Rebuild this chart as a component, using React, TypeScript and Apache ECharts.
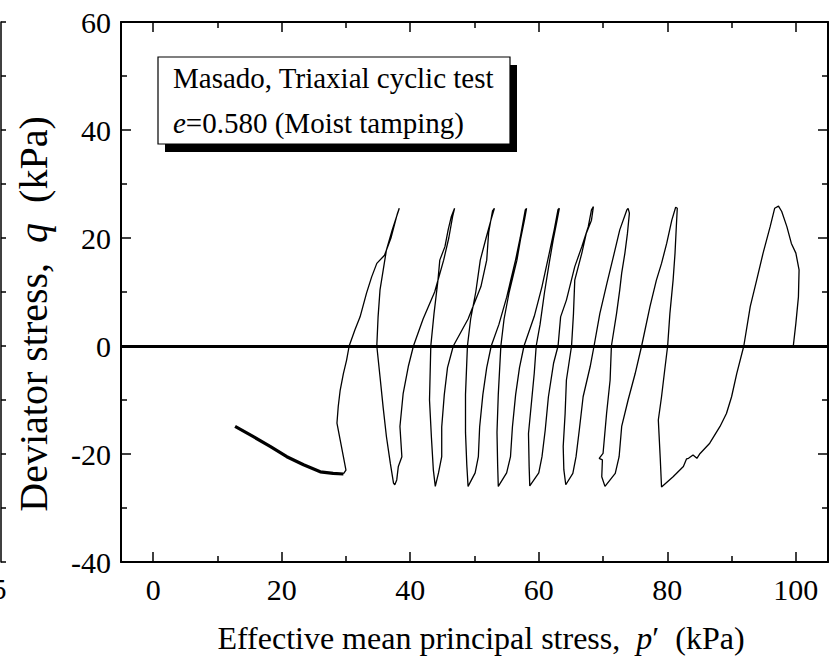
import React, { useEffect, useRef } from "react";
import * as echarts from "echarts";

// ---- Data: effective stress path (p', q) in kPa ----
const cycle1: number[][] = [
  [99.6, 0], [100.0, 4.2], [100.4, 9.1], [100.5, 14.1], [100.0, 17.2], [99.3, 19.0], [98.6, 22.1],
  [97.8, 24.9], [97.3, 25.9], [96.7, 25.5], [96.0, 22.1], [94.9, 17.2], [93.9, 12.2], [92.9, 7.3],
  [91.9, 0], [90.8, -5.1], [90.0, -9.4], [89.2, -12.5], [88.2, -14.9], [86.6, -18.0], [85.1, -19.9],
  [84.6, -20.8], [84.0, -20.2], [83.3, -20.8], [83.0, -20.9], [82.5, -22.3], [80.9, -24.2], [79.1, -26.1],
];
const cycle2: number[][] = [
  [78.9, -20.8], [78.6, -13.7], [79.1, -9.4], [79.6, -4.4], [80.05, 0], [80.4, 6.0], [80.9, 12.2],
  [81.2, 17.2], [81.4, 22.1], [81.55, 25.5], [81.3, 25.7], [80.7, 23.3], [79.9, 19.0], [79.1, 15.3],
  [78.3, 12.2], [77.3, 7.3], [76.0, 0], [75.0, -5.1], [73.9, -10.0], [72.9, -14.9], [72.5, -20.5],
  [71.9, -23.6], [70.3, -26.0],
];
const cycle3: number[][] = [
  [69.8, -24.2], [69.9, -21.1], [69.4, -20.8], [70.0, -19.9], [70.55, -12.5], [71.1, -6.3], [71.3, 0],
  [72.1, 6.0], [72.6, 10.4], [72.9, 13.5], [73.4, 17.2], [73.8, 20.9], [74.1, 24.6], [73.9, 25.5],
  [73.7, 25.2], [72.6, 21.5], [71.6, 16.5], [70.6, 11.6], [69.5, 6.0], [68.6, 0], [68.0, -3.8],
  [66.9, -9.4], [66.3, -15.6], [65.8, -20.5], [65.3, -23.6], [64.2, -25.7],
];
const cycle4: number[][] = [
  [63.9, -22.9], [63.8, -18.6], [64.1, -12.5], [64.3, -6.3], [65.1, 0], [65.4, 6.0], [65.6, 12.2],
  [66.7, 17.2], [67.4, 20.9], [68.2, 23.3], [68.5, 25.8], [68.2, 25.2], [67.7, 22.1], [66.7, 18.4],
  [65.6, 14.7], [64.3, 8.5], [63.4, 5.4], [63.0, 0], [62.3, -3.2], [61.5, -9.4], [61.0, -15.6],
  [60.5, -20.5], [60.0, -23.5], [58.6, -25.9],
];
const cycle5: number[][] = [
  [58.5, -22.3], [58.4, -16.2], [58.9, -10.0], [59.3, -5.0], [59.6, 0], [60.2, 4.0], [60.9, 10.0],
  [61.7, 15.9], [62.3, 20.0], [62.8, 23.0], [63.2, 25.5], [63.0, 25.3], [62.4, 21.5], [61.6, 17.0],
  [60.5, 11.0], [59.3, 5.5], [57.7, 0], [57.0, -4.0], [56.4, -9.0], [55.9, -15.0], [55.6, -20.5],
  [55.0, -23.5], [53.7, -26.0],
];
const cycle6: number[][] = [
  [53.6, -22.0], [53.5, -16.0], [53.7, -9.0], [54.1, 0], [54.6, 5.0], [55.4, 10.0], [56.6, 15.9],
  [57.2, 20.0], [57.8, 23.5], [58.1, 25.5], [57.9, 25.2], [57.1, 20.0], [56.4, 16.0], [55.0, 9.0],
  [53.8, 4.0], [52.6, 0], [51.9, -4.0], [51.3, -9.0], [50.8, -15.0], [50.6, -20.5], [50.1, -23.5],
  [49.0, -26.0],
];
const cycle7: number[][] = [
  [48.8, -22.0], [48.6, -16.0], [48.6, -9.0], [48.9, 0], [49.4, 5.0], [50.2, 10.0], [50.9, 15.9],
  [51.8, 20.0], [52.6, 23.5], [53.1, 25.5], [52.8, 25.0], [52.2, 21.0], [51.9, 15.9], [51.0, 11.0],
  [49.0, 5.0], [46.7, 0], [45.8, -4.0], [45.3, -9.0], [44.9, -15.0], [44.9, -20.5], [44.4, -23.5],
  [43.9, -26.0],
];
const cycle8: number[][] = [
  [43.6, -23.0], [43.3, -17.0], [43.0, -10.0], [43.2, 0], [43.7, 6.0], [44.3, 12.0], [44.6, 15.9],
  [45.4, 18.4], [45.9, 21.5], [46.4, 24.0], [46.9, 25.5], [46.6, 24.0], [46.0, 20.0], [45.2, 15.9],
  [43.8, 10.0], [42.0, 5.0], [40.5, 0], [39.7, -3.8], [38.9, -8.8], [38.4, -14.9], [38.7, -20.5],
  [38.15, -22.3], [37.9, -24.8], [37.6, -25.7],
];
const cycle9: number[][] = [
  [37.4, -25.4], [36.9, -21.7], [36.3, -16.8], [35.8, -11.5], [35.3, -5.7], [34.8, 0], [35.0, 5.4],
  [35.3, 10.4], [35.8, 14.1], [36.3, 17.8], [37.2, 21.5], [38.3, 25.5], [38.0, 24.5], [37.0, 20.0],
  [36.0, 16.8], [34.8, 15.3], [34.0, 12.8], [33.2, 9.8], [32.2, 5.4], [31.4, 3.0], [30.5, 0],
  [30.1, -2.6], [29.6, -5.1], [29.1, -8.2], [28.8, -11.2], [28.6, -14.3], [29.1, -17.4], [29.6, -20.5],
  [30.0, -23.0], [29.6, -23.7],
];
const tail: number[][] = [
  [29.6, -23.7], [28.0, -23.6], [26.0, -23.3], [23.4, -22.0], [20.8, -20.5], [18.2, -18.6],
  [15.6, -16.8], [12.75, -14.9],
];

const xMajorTicks = [0, 20, 40, 60, 80, 100];
const xMinorTicks = [10, 30, 50, 70, 90];

const FONT = "'Liberation Serif', 'Times New Roman', Times, serif";

export default function App() {
  const ref = useRef<HTMLDivElement>(null);

  useEffect(() => {
    if (!ref.current) return;
    const chart = echarts.init(ref.current, undefined, { renderer: "svg" });
    const path = [
      ...cycle1, ...cycle2, ...cycle3, ...cycle4, ...cycle5,
      ...cycle6, ...cycle7, ...cycle8, ...cycle9,
    ];

    const labelStyle = { fontSize: 30, fontFamily: FONT, color: "#000" };

    const xBase = (pos: string, ticks: number[], len: number, labels: boolean, line: boolean) => ({
      type: "value",
      min: -5,
      max: 105,
      position: pos,
      axisLine: { show: line, onZero: false, lineStyle: { color: "#000", width: 2 } },
      axisTick: {
        show: true,
        inside: true,
        length: len,
        customValues: ticks,
        lineStyle: { color: "#000", width: 1.5 },
      },
      axisLabel: labels
        ? { show: true, customValues: ticks, margin: 12, ...labelStyle }
        : { show: false },
      splitLine: { show: false },
    });

    const yBase = (pos: string, labels: boolean, offset: number, len: number, minorLen: number, lw: number) => ({
      type: "value",
      min: -40,
      max: 60,
      interval: 20,
      position: pos,
      offset,
      axisLine: { show: true, onZero: false, lineStyle: { color: "#000", width: lw } },
      axisTick: { show: true, inside: true, length: len, lineStyle: { color: "#000", width: 1.5 } },
      minorTick: { show: true, splitNumber: 2, length: minorLen, lineStyle: { color: "#000", width: 1.5 } },
      axisLabel: labels ? { show: true, margin: 10, ...labelStyle } : { show: false },
      splitLine: { show: false },
      minorSplitLine: { show: false },
    });

    chart.setOption({
      animation: false,
      backgroundColor: "#fff",
      textStyle: { fontFamily: FONT },
      grid: { left: 121, right: 10, top: 22, bottom: 105, containLabel: false },
      xAxis: [
        xBase("bottom", xMajorTicks, 10, true, true),
        xBase("bottom", xMinorTicks, 6, false, false),
        xBase("top", xMajorTicks, 10, false, true),
        xBase("top", xMinorTicks, 6, false, false),
      ],
      yAxis: [
        yBase("left", true, 0, 10, 6, 2),
        yBase("right", false, 0, 10, 6, 2),
        yBase("left", false, 120, 5, 5, 1.5),
      ],
      series: [
        {
          type: "line",
          xAxisIndex: 0,
          yAxisIndex: 0,
          data: path,
          showSymbol: false,
          symbol: "none",
          lineStyle: { color: "#000", width: 1.3 },
          markLine: {
            silent: true,
            symbol: ["none", "none"],
            label: { show: false },
            lineStyle: { color: "#000", width: 3, type: "solid" },
            data: [{ yAxis: 0 }],
          },
        },
        {
          type: "line",
          xAxisIndex: 0,
          yAxisIndex: 0,
          data: tail,
          showSymbol: false,
          symbol: "none",
          lineStyle: { color: "#000", width: 3.2 },
        },
      ],
      graphic: [
        { type: "rect", shape: { x: 165, y: 65, width: 352, height: 87 }, style: { fill: "#000" } },
        {
          type: "rect",
          shape: { x: 158, y: 57, width: 352, height: 87 },
          style: { fill: "#fff", stroke: "#000", lineWidth: 1.2 },
        },
        {
          type: "text",
          x: 173,
          y: 78,
          style: {
            text: "Masado, Triaxial cyclic test",
            fontSize: 29,
            fontFamily: FONT,
            fill: "#000",
            align: "left",
            verticalAlign: "middle",
          },
        },
        {
          type: "text",
          x: 173,
          y: 123,
          style: {
            text: "{i|e}{n|=0.580 (Moist tamping)}",
            fontSize: 29,
            fontFamily: FONT,
            fill: "#000",
            align: "left",
            verticalAlign: "middle",
            rich: {
              i: { fontSize: 29, fontFamily: FONT, fontStyle: "italic", fill: "#000" },
              n: { fontSize: 29, fontFamily: FONT, fill: "#000" },
            },
          },
        },
        {
          type: "text",
          x: 481,
          y: 638,
          style: {
            text: "{n|Effective mean principal stress,  }{i|p}{n|\u2032  (kPa)}",
            fontSize: 32,
            fontFamily: FONT,
            fill: "#000",
            align: "center",
            verticalAlign: "middle",
            rich: {
              i: { fontSize: 32, fontFamily: FONT, fontStyle: "italic", fill: "#000" },
              n: { fontSize: 32, fontFamily: FONT, fill: "#000" },
            },
          },
        },
        {
          type: "text",
          x: 33,
          y: 314,
          rotation: Math.PI / 2,
          style: {
            text: "{n|Deviator stress,  }{i|q}{n|  (kPa)}",
            fontSize: 40,
            fontFamily: FONT,
            fill: "#000",
            align: "center",
            verticalAlign: "middle",
            rich: {
              i: { fontSize: 40, fontFamily: FONT, fontStyle: "italic", fill: "#000" },
              n: { fontSize: 40, fontFamily: FONT, fill: "#000" },
            },
          },
        },
        {
          type: "text",
          x: -8,
          y: 589,
          style: {
            text: "5",
            fontSize: 29,
            fontFamily: FONT,
            fill: "#000",
            align: "left",
            verticalAlign: "middle",
          },
        },
      ],
    });

    return () => chart.dispose();
  }, []);

  return (
    <div
      ref={ref}
      style={{ position: "fixed", left: 0, top: 0, width: 838, height: 667, background: "#fff" }}
    />
  );
}
